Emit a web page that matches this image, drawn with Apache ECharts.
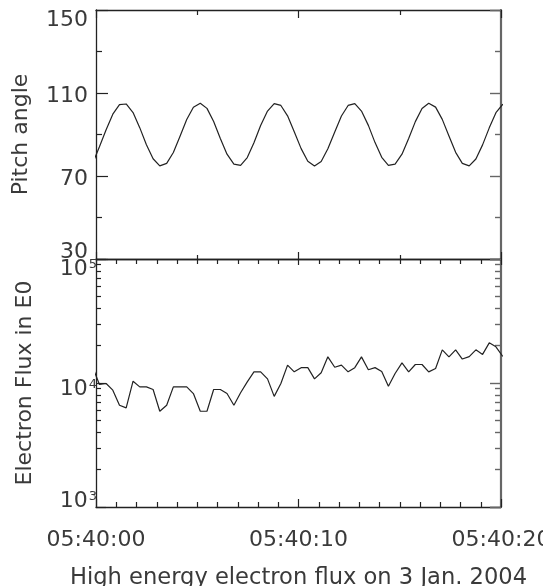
<!DOCTYPE html>
<html><head><meta charset="utf-8">
<script src="https://cdn.jsdelivr.net/npm/echarts@6/dist/echarts.min.js"></script>
<style>html,body{margin:0;padding:0;background:#fff}#c{width:543px;height:586px}</style>
</head><body><div id="c"></div>
<script>
// seconds after 05:40:00
const times = [-0.17,0.17,0.50,0.83,1.16,1.49,1.83,2.16,2.49,2.82,3.15,3.49,3.82,4.15,4.48,4.81,5.15,5.48,5.81,6.14,6.47,6.81,7.14,7.47,7.80,8.13,8.47,8.80,9.13,9.46,9.79,10.13,10.46,10.79,11.12,11.45,11.79,12.12,12.45,12.78,13.11,13.45,13.78,14.11,14.44,14.77,15.11,15.44,15.77,16.10,16.43,16.77,17.10,17.43,17.76,18.09,18.43,18.76,19.09,19.42,19.75,20.09];
const pitchAngle = [76.0,84.1,92.3,99.8,104.4,104.7,100.6,93.3,85.1,78.3,74.9,76.1,81.3,89.2,97.2,103.1,105.1,102.6,96.3,88.1,80.5,75.7,75.1,78.9,86.0,94.3,101.3,104.9,104.0,99.0,91.3,83.2,77.1,74.8,77.0,83.1,91.2,98.9,104.0,104.9,101.3,94.4,86.1,79.0,75.1,75.7,80.5,88.1,96.2,102.5,105.1,103.2,97.3,89.3,81.4,76.1,74.9,78.2,85.0,93.2,100.5,104.6];
const electronFlux = [13500,9720,9910,8750,6620,6300,10340,9310,9310,8860,5920,6620,9310,9310,9310,8220,5920,5920,8860,8860,8220,6620,8350,10210,12300,12300,10800,7800,9910,13930,12300,13300,13300,10800,12100,16250,13400,13930,12300,13300,16250,12800,13300,12400,9400,11930,14530,12300,14100,14100,12300,13090,18500,16250,18500,15600,16300,18500,17000,21080,19580,16370];
const xTickLabels = ['05:40:00','05:40:10','05:40:20'];
const pitchRange = [30, 150];
const fluxRange = [1000, 100000];
const fluxMinorTicks = [2000,3000,4000,5000,6000,7000,8000,9000,20000,30000,40000,50000,60000,70000,80000,90000];
const xTitle = 'High energy electron flux on 3 Jan. 2004';
const pitchTitle = 'Pitch angle';
const fluxTitle = 'Electron Flux in E0';

const FONT = 'DejaVu Sans';
const TXT = '#3a3a3a';
const LINE = '#222';
const RIGHT = '#666';

const pitchData = times.map((t, i) => [t, pitchAngle[i]]);
const fluxData = times.map((t, i) => [t, electronFlux[i]]);

function xAx(grid, pos, o) {
  return Object.assign({
    type: 'value', gridIndex: grid, position: pos, min: 0, max: 20, interval: 10,
    axisLine: { show: true, onZero: false, lineStyle: { color: LINE, width: 1.3 } },
    axisTick: { show: true, inside: true, length: 8, lineStyle: { color: LINE, width: 1.2 } },
    minorTick: { show: true, splitNumber: 2, length: 5, lineStyle: { color: LINE, width: 1.2 } },
    axisLabel: { show: false }, splitLine: { show: false }, minorSplitLine: { show: false }
  }, o || {});
}

const txt = { fontFamily: FONT, fontSize: 22, color: TXT };

const option = {
  animation: false,
  backgroundColor: '#fff',
  grid: [
    { left: 96, right: 42, top: 10, height: 249, outerBoundsMode: 'none', containLabel: false },
    { left: 96, right: 42, top: 259, height: 248, outerBoundsMode: 'none', containLabel: false }
  ],
  xAxis: [
    xAx(0, 'bottom', { axisTick: { show: true, inside: true, length: 7, lineStyle: { color: LINE, width: 1.2 } }, minorTick: { show: true, splitNumber: 2, length: 4, lineStyle: { color: LINE, width: 1.2 } } }),
    xAx(0, 'top'),
    xAx(1, 'bottom', {
      minorTick: { show: true, splitNumber: 10, length: 5, lineStyle: { color: LINE, width: 1.2 } },
      axisLabel: { show: true, margin: 22, ...txt, formatter: v => xTickLabels[Math.round(v / 10)] },
      name: xTitle, nameLocation: 'middle', nameGap: 60, nameTextStyle: { ...txt, fontSize: 22.6 }
    }),
    xAx(1, 'top', {
      axisTick: { show: true, inside: true, length: 6, lineStyle: { color: LINE, width: 1.2 } },
      minorTick: { show: true, splitNumber: 10, length: 5, lineStyle: { color: LINE, width: 1.2 } }
    })
  ],
  yAxis: [
    {
      type: 'value', gridIndex: 0, position: 'left', min: pitchRange[0], max: pitchRange[1], interval: 40,
      axisLine: { show: true, onZero: false, lineStyle: { color: LINE, width: 1.3 } },
      axisTick: { show: true, inside: true, length: 12, lineStyle: { color: LINE, width: 1.2 } },
      minorTick: { show: true, splitNumber: 2, length: 6, lineStyle: { color: LINE, width: 1.2 } },
      splitLine: { show: false },
      axisLabel: {
        margin: 8, ...txt,
        formatter: v => v === pitchRange[1] ? '{hi|' + v + '}' : v === pitchRange[0] ? '{lo|' + v + '}' : '{mid|' + v + '}',
        rich: {
          hi: { ...txt, padding: [20, 0, 0, 0] },
          mid: { ...txt, padding: [6, 0, 0, 0] },
          lo: { ...txt, padding: [0, 0, 14, 0] }
        }
      },
      name: pitchTitle, nameLocation: 'middle', nameGap: 64, nameTextStyle: txt
    },
    {
      type: 'value', gridIndex: 0, position: 'right', min: pitchRange[0], max: pitchRange[1], interval: 40,
      axisLine: { show: true, onZero: false, lineStyle: { color: RIGHT, width: 2.2 } },
      axisTick: { show: true, inside: true, length: 11, lineStyle: { color: RIGHT, width: 1.4 } },
      minorTick: { show: true, splitNumber: 2, length: 6, lineStyle: { color: RIGHT, width: 1.4 } },
      splitLine: { show: false }, axisLabel: { show: false }
    },
    {
      type: 'log', logBase: 10, gridIndex: 1, position: 'left', min: fluxRange[0], max: fluxRange[1],
      axisLine: { show: true, onZero: false, lineStyle: { color: LINE, width: 1.3 } },
      axisTick: { show: true, inside: true, length: 10, lineStyle: { color: LINE, width: 1.2 } },
      splitLine: { show: false },
      axisLabel: {
        margin: -1, ...txt,
        formatter: v => { const e = Math.round(Math.log10(v)); return '{b' + e + '|10}{s' + e + '|' + e + '}'; },
        rich: {
          b5: { ...txt, padding: [20, 0, 0, 0] },
          s5: { ...txt, fontSize: 13, verticalAlign: 'top', padding: [20, 0, 0, 1] },
          b4: { ...txt, padding: [13, 0, 0, 0] },
          s4: { ...txt, fontSize: 13, verticalAlign: 'top', padding: [13, 0, 0, 1] },
          b3: { ...txt, padding: [0, 0, 11, 0] },
          s3: { ...txt, fontSize: 13, verticalAlign: 'top', padding: [0, 0, 0, 1] }
        }
      },
      name: fluxTitle, nameLocation: 'middle', nameGap: 60, nameTextStyle: txt
    },
    {
      type: 'log', logBase: 10, gridIndex: 1, position: 'right', min: fluxRange[0], max: fluxRange[1],
      axisLine: { show: true, onZero: false, lineStyle: { color: RIGHT, width: 2.2 } },
      axisTick: { show: true, inside: true, length: 11, lineStyle: { color: RIGHT, width: 1.4 } },
      splitLine: { show: false }, axisLabel: { show: false }
    },
    {
      type: 'value', gridIndex: 1, position: 'left', min: Math.log10(fluxRange[0]), max: Math.log10(fluxRange[1]),
      axisLine: { show: false, onZero: false },
      axisTick: { show: true, inside: true, length: 5, customValues: fluxMinorTicks.map(Math.log10), lineStyle: { color: LINE, width: 1.2 } },
      splitLine: { show: false }, axisLabel: { show: false }
    },
    {
      type: 'value', gridIndex: 1, position: 'right', min: Math.log10(fluxRange[0]), max: Math.log10(fluxRange[1]),
      axisLine: { show: false, onZero: false },
      axisTick: { show: true, inside: true, length: 6, customValues: fluxMinorTicks.map(Math.log10), lineStyle: { color: RIGHT, width: 1.4 } },
      splitLine: { show: false }, axisLabel: { show: false }
    }
  ],
  series: [
    { type: 'line', xAxisIndex: 0, yAxisIndex: 0, data: pitchData, showSymbol: false, clip: true,
      lineStyle: { color: LINE, width: 1.2 } },
    { type: 'line', xAxisIndex: 2, yAxisIndex: 2, data: fluxData, showSymbol: false, clip: true,
      lineStyle: { color: LINE, width: 1.2 } }
  ]
};
const chart = echarts.init(document.getElementById('c'), null, { renderer: 'canvas' });
chart.setOption(option);
</script></body></html>
